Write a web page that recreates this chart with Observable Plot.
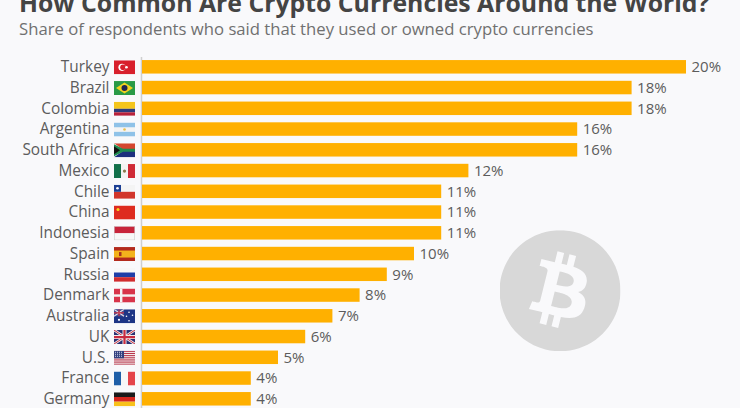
<!DOCTYPE html>
<html><head><meta charset="utf-8">
<script src="https://cdn.jsdelivr.net/npm/d3@7"></script>
<script src="https://cdn.jsdelivr.net/npm/@observablehq/plot@0.6"></script>
<style>
html,body{margin:0;padding:0;background:#f9f9fb;width:740px;height:408px;overflow:hidden;font-family:"Open Sans",sans-serif}
#head{height:48px;position:relative;overflow:hidden}
#t{position:absolute;left:19px;top:-14px;font-size:24.8px;font-weight:700;color:#444;white-space:nowrap;line-height:32px}
#s{position:absolute;left:19px;top:18px;font-size:16.7px;color:#707070;white-space:nowrap;line-height:22px}
svg{display:block}
</style></head><body>
<div id="head"><div id="t">How Common Are Crypto Currencies Around the World?</div>
<div id="s">Share of respondents who said that they used or owned crypto currencies</div></div>
<div id="chart"></div>
<script>
const countries = ["Turkey","Brazil","Colombia","Argentina","South Africa","Mexico","Chile","China","Indonesia","Spain","Russia","Denmark","Australia","UK","U.S.","France","Germany"];
const shares = [20,18,18,16,16,12,11,11,11,10,9,8,7,6,5,4,4];

const R=(x,y,w,h,f)=>`<rect x="${x}" y="${y}" width="${w}" height="${h}" fill="${f}"/>`;
const flagArt = {
  "Turkey": R(0,0,21,14,"#d8202c")+'<circle cx="8" cy="7" r="3.6" fill="#fff"/><circle cx="9" cy="7" r="2.8" fill="#d8202c"/><circle cx="12.5" cy="7" r="1.3" fill="#fff"/>',
  "Brazil": R(0,0,21,14,"#2a9a46")+'<path d="M10.5 1.5L19 7L10.5 12.5L2 7Z" fill="#f2d21f"/><circle cx="10.5" cy="7" r="3" fill="#20264f"/>',
  "Colombia": R(0,0,21,7,"#f4c51c")+R(0,7,21,3.5,"#2c3c7c")+R(0,10.5,21,3.5,"#b8213a"),
  "Argentina": R(0,0,21,14,"#8fc2e8")+R(0,4.7,21,4.6,"#f4f4f4")+'<circle cx="10.5" cy="7" r="1.3" fill="#e8c050"/>',
  "South Africa": R(0,0,21,7,"#d4452f")+R(0,7,21,7,"#1c2f7e")+'<path d="M0 0L10 7L0 14Z" fill="#fff"/><path d="M0 1L9 5.5H21V8.5H9L0 13Z" fill="#1f8a50"/><path d="M0 3L6 7L0 11Z" fill="#111"/>',
  "Mexico": R(0,0,7,14,"#12704a")+R(7,0,7,14,"#f4f4f4")+R(14,0,7,14,"#cf2b37")+'<circle cx="10.5" cy="7" r="1.6" fill="#8a7a4a"/>',
  "Chile": R(0,0,21,7,"#f4f4f4")+R(0,7,21,7,"#d1352b")+R(0,0,7,7,"#1c3f94")+'<circle cx="3.5" cy="3.5" r="1.3" fill="#fff"/>',
  "China": R(0,0,21,14,"#de2b1f")+'<circle cx="4" cy="4" r="1.5" fill="#f7d51d"/>',
  "Indonesia": R(0,0,21,7,"#c8243a")+R(0,7,21,7,"#f7f7f7")+'<rect x=".3" y=".3" width="20.4" height="13.4" fill="none" stroke="#ccc" stroke-width=".6"/>',
  "Spain": R(0,0,21,14,"#b32a1d")+R(0,3.5,21,7,"#f3b31c")+R(5,5,2.5,4,"#a8321f"),
  "Russia": R(0,0,21,4.7,"#f7f7f7")+R(0,4.7,21,4.7,"#1e3ea8")+R(0,9.4,21,4.6,"#d12c2f"),
  "Denmark": R(0,0,21,14,"#d8344a")+R(6,0,2.4,14,"#f4f4f4")+R(0,5.8,21,2.4,"#f4f4f4"),
  "Australia": R(0,0,21,14,"#1d3585")+R(0,0,10,7,"#3f4f96")+'<path d="M0 0L10 7M10 0L0 7" stroke="#e6dfe6" stroke-width="1.2"/><path d="M5 0V7M0 3.5H10" stroke="#c83040" stroke-width="1.2"/><circle cx="5" cy="10.5" r="1.1" fill="#fff"/><circle cx="15" cy="3" r=".8" fill="#fff"/><circle cx="18.5" cy="6" r=".8" fill="#fff"/><circle cx="12.5" cy="7" r=".8" fill="#fff"/><circle cx="15" cy="11.5" r=".8" fill="#fff"/>',
  "UK": R(0,0,21,14,"#2a2f72")+'<path d="M0 0L21 14M21 0L0 14" stroke="#eee" stroke-width="2.6"/><path d="M0 0L21 14M21 0L0 14" stroke="#c82b3f" stroke-width="1"/><path d="M10.5 0V14M0 7H21" stroke="#eee" stroke-width="4"/><path d="M10.5 0V14M0 7H21" stroke="#c82b3f" stroke-width="2.2"/>',
  "U.S.": R(0,0,21,14,"#f4f0f0")+[0,2.15,4.3,6.45,8.6,10.75,12.9].map(y=>R(0,y,21,1.08,"#b8344a")).join("")+R(0,0,10,7.5,"#34407f")+'<path d="M1 1.5H9M1 3.5H9M1 5.5H9" stroke="#dfe3f2" stroke-width=".9" stroke-dasharray="1 1"/>',
  "France": R(0,0,7,14,"#1f5fa8")+R(7,0,7,14,"#f7f7f7")+R(14,0,7,14,"#e5444a"),
  "Germany": R(0,0,21,4.7,"#1a1a1a")+R(0,4.7,21,4.7,"#d5261e")+R(0,9.4,21,4.6,"#f8c11a")
};
const uri = s => "data:image/svg+xml;charset=utf-8," + encodeURIComponent(s);
const flagSrc = c => uri(`<svg xmlns="http://www.w3.org/2000/svg" viewBox="0 0 21 14" width="21" height="14">${flagArt[c]}</svg>`);
const logoSrc = uri(`<svg xmlns="http://www.w3.org/2000/svg" viewBox="0 0 64 64" width="121" height="121"><path fill="#d8d8d8" d="M63.033,39.744c-4.274,17.143-21.637,27.576-38.782,23.301C7.116,58.771-3.317,41.407,0.961,24.265C5.233,7.12,22.596-3.314,39.736,0.96C56.879,5.234,67.311,22.6,63.033,39.744L63.033,39.744z"/><path fill="#f9f9fb" d="M46.103,27.444c0.637-4.258-2.605-6.547-7.038-8.074l1.438-5.768l-3.511-0.875l-1.4,5.616c-0.923-0.23-1.871-0.447-2.813-0.662l1.41-5.653l-3.509-0.875l-1.439,5.766c-0.764-0.174-1.514-0.346-2.242-0.527l0.004-0.018l-4.842-1.209l-0.934,3.75c0,0,2.605,0.597,2.55,0.634c1.422,0.355,1.679,1.296,1.636,2.042l-1.638,6.571c0.098,0.025,0.225,0.061,0.365,0.117c-0.117-0.029-0.242-0.061-0.371-0.092l-2.296,9.205c-0.174,0.432-0.615,1.08-1.609,0.834c0.035,0.051-2.552-0.637-2.552-0.637l-1.743,4.019l4.569,1.139c0.85,0.213,1.683,0.436,2.503,0.646l-1.453,5.834l3.507,0.875l1.439-5.772c0.958,0.26,1.888,0.5,2.798,0.726l-1.434,5.745l3.511,0.875l1.453-5.823c5.987,1.133,10.489,0.676,12.384-4.739c1.527-4.36-0.076-6.875-3.226-8.515c2.294-0.529,4.022-2.038,4.483-5.155L46.103,27.444z M38.081,38.693c-1.085,4.36-8.426,2.003-10.806,1.412l1.928-7.729C31.583,32.97,39.215,34.145,38.081,38.693z M39.167,27.381c-0.99,3.966-7.1,1.951-9.082,1.457l1.748-7.01C33.815,22.322,40.198,23.244,39.167,27.381z"/></svg>`);

const rows = countries.map((country,i)=>({country,share:shares[i]}));
const chart = Plot.plot({
  width:740, height:360,
  marginLeft:142, marginRight:54, marginTop:9, marginBottom:0,
  style:{background:"transparent",fontFamily:"'Open Sans',sans-serif",overflow:"hidden"},
  x:{domain:[0,20],range:[142,686],axis:null},
  y:{domain:countries,range:[4.8,364.8],padding:0.35,round:false,label:null,axis:null},
  marks:[
    Plot.image([0],{x:15.35,y:()=>"Denmark",dy:-4.8,width:121,height:121,src:()=>logoSrc}),
    Plot.ruleX([0],{dx:-1,stroke:"#cfcfcf",strokeWidth:1.5}),
    Plot.barX(rows,{x:"share",y:"country",fill:"#ffb000"}),
    Plot.image(rows,{x:0,y:"country",dx:-18,width:21,height:14,preserveAspectRatio:"none",src:d=>flagSrc(d.country)}),
    Plot.text(rows,{x:0,y:"country",text:"country",textAnchor:"end",dx:-33,fontSize:15.4,fill:"#5c5c5c"}),
    Plot.text(rows,{x:"share",y:"country",text:d=>d.share+"%",textAnchor:"start",dx:5,fontSize:15,fill:"#5c5c5c"})
  ]
});
document.getElementById("chart").append(chart);
</script></body></html>
